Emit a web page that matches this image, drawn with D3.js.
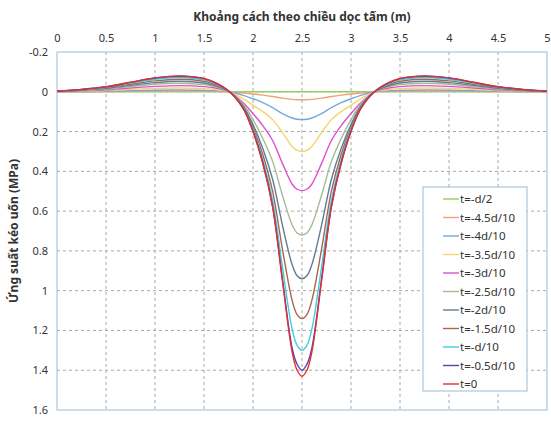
<!DOCTYPE html>
<html><head><meta charset="utf-8">
<script src="https://cdn.jsdelivr.net/npm/d3@7"></script>
<style>
body{margin:0;background:#fff;}
text{font-family:"Noto Sans",sans-serif;fill:#333;}
</style></head>
<body><svg id="c" width="551" height="421"></svg>
<script>
const xs = [0,0.25,0.5,0.75,1,1.25,1.5,1.6,1.75,1.9,2,2.1,2.2,2.3,2.4,2.45,2.5,2.55,2.6,2.7,2.8,2.9,3,3.1,3.25,3.4,3.5,3.75,4,4.25,4.5,4.75,5];
const xTicks = [0,0.5,1,1.5,2,2.5,3,3.5,4,4.5,5];
const yTicks = [-0.2,0,0.2,0.4,0.6,0.8,1,1.2,1.4,1.6];
const seriesNames = ["t=-d/2","t=-4.5d/10","t=-4d/10","t=-3.5d/10","t=-3d/10","t=-2.5d/10","t=-2d/10","t=-1.5d/10","t=-d/10","t=-0.5d/10","t=0"];
const seriesColors = ["#8fd163","#f2a07a","#72a9dc","#f7d468","#df4fcf","#a3bb92","#5f7d96","#a8664a","#3fcde0","#5a3fb8","#e0302e"];

const sHalfD2  = [0,0,0,0,0,0,0,0,0,0,0,0,0,0,0,0,0,0,0,0,0,0,0,0,0,0,0,0,0,0,0,0,0];
const s45d10   = [0,0,-0.001,-0.002,-0.002,-0.003,-0.002,-0.002,0,0.006,0.011,0.017,0.024,0.032,0.038,0.04,0.04,0.04,0.038,0.032,0.024,0.017,0.011,0.006,0,-0.002,-0.002,-0.003,-0.002,-0.002,-0.001,0,0];
const s4d10    = [0,-0.001,-0.003,-0.005,-0.008,-0.009,-0.007,-0.006,0,0.018,0.035,0.055,0.08,0.11,0.132,0.138,0.14,0.138,0.132,0.11,0.08,0.055,0.035,0.018,0,-0.006,-0.007,-0.009,-0.008,-0.005,-0.003,-0.001,0];
const s35d10   = [-0.001,-0.003,-0.006,-0.012,-0.017,-0.019,-0.016,-0.012,-0.001,0.035,0.068,0.1,0.14,0.205,0.275,0.295,0.3,0.295,0.275,0.205,0.14,0.1,0.068,0.035,-0.001,-0.012,-0.016,-0.019,-0.017,-0.012,-0.006,-0.003,-0.001];
const s3d10    = [-0.001,-0.005,-0.01,-0.019,-0.027,-0.031,-0.026,-0.02,-0.002,0.055,0.11,0.17,0.245,0.36,0.465,0.49,0.497,0.49,0.465,0.36,0.245,0.17,0.11,0.055,-0.002,-0.02,-0.026,-0.031,-0.027,-0.019,-0.01,-0.005,-0.001];
const s25d10   = [-0.002,-0.006,-0.014,-0.026,-0.038,-0.043,-0.036,-0.027,-0.002,0.063,0.14,0.235,0.35,0.52,0.67,0.71,0.72,0.71,0.67,0.52,0.35,0.235,0.14,0.063,-0.002,-0.027,-0.036,-0.043,-0.038,-0.026,-0.014,-0.006,-0.002];
const s2d10    = [-0.002,-0.008,-0.017,-0.032,-0.046,-0.053,-0.044,-0.033,-0.003,0.072,0.165,0.285,0.44,0.67,0.87,0.925,0.94,0.925,0.87,0.67,0.44,0.285,0.165,0.072,-0.003,-0.033,-0.044,-0.053,-0.046,-0.032,-0.017,-0.008,-0.002];
const s15d10   = [-0.002,-0.009,-0.021,-0.038,-0.055,-0.063,-0.053,-0.04,-0.004,0.078,0.18,0.315,0.5,0.79,1.05,1.12,1.14,1.12,1.05,0.79,0.5,0.315,0.18,0.078,-0.004,-0.04,-0.053,-0.063,-0.055,-0.038,-0.021,-0.009,-0.002];
const s1d10    = [-0.003,-0.011,-0.023,-0.043,-0.063,-0.072,-0.06,-0.045,-0.004,0.082,0.19,0.34,0.545,0.88,1.195,1.275,1.3,1.275,1.195,0.88,0.545,0.34,0.19,0.082,-0.004,-0.045,-0.06,-0.072,-0.063,-0.043,-0.023,-0.011,-0.003];
const s05d10   = [-0.003,-0.012,-0.025,-0.047,-0.069,-0.078,-0.066,-0.049,-0.005,0.084,0.198,0.357,0.575,0.94,1.29,1.37,1.4,1.37,1.29,0.94,0.575,0.357,0.198,0.084,-0.005,-0.049,-0.066,-0.078,-0.069,-0.047,-0.025,-0.012,-0.003];
const s0       = [-0.003,-0.012,-0.026,-0.048,-0.07,-0.08,-0.067,-0.05,-0.005,0.085,0.2,0.36,0.58,0.95,1.31,1.4,1.43,1.4,1.31,0.95,0.58,0.36,0.2,0.085,-0.005,-0.05,-0.067,-0.08,-0.07,-0.048,-0.026,-0.012,-0.003];
const seriesValues = [sHalfD2,s45d10,s4d10,s35d10,s3d10,s25d10,s2d10,s15d10,s1d10,s05d10,s0];

const L=57,R=547,T=52,B=410;
const svg=d3.select("#c");
const x=d3.scaleLinear().domain([0,5]).range([L,R]);
const y=d3.scaleLinear().domain([-0.2,1.6]).range([T,B]);

// grid
svg.append("g").selectAll("line").data(xTicks.slice(1,-1)).join("line")
  .attr("x1",d=>x(d)).attr("x2",d=>x(d)).attr("y1",T).attr("y2",B)
  .attr("stroke","#a8a8a8").attr("stroke-dasharray","3,3").attr("stroke-width",1);
svg.append("g").selectAll("line").data(yTicks.slice(1,-1)).join("line")
  .attr("x1",L).attr("x2",R).attr("y1",d=>y(d)).attr("y2",d=>y(d))
  .attr("stroke","#a8a8a8").attr("stroke-dasharray","3,3").attr("stroke-width",1);

// border
svg.append("rect").attr("x",L).attr("y",T).attr("width",R-L).attr("height",B-T)
  .attr("fill","none").attr("stroke","#9dbbd0").attr("stroke-width",1);

// axes (labels only)
const fmt=d=>String(d);
const xAxis=d3.axisTop(x).tickValues(xTicks).tickSize(0).tickPadding(0).tickFormat(fmt);
const gx=svg.append("g").attr("transform",`translate(0,${T-10})`).call(xAxis);
gx.select(".domain").remove();
gx.selectAll("text").attr("font-size",11).attr("fill","#404040").style("font-family","'Noto Sans',sans-serif");
const yAxis=d3.axisLeft(y).tickValues(yTicks).tickSize(0).tickPadding(0).tickFormat(fmt);
const gy=svg.append("g").attr("transform",`translate(${L-9},0)`).call(yAxis);
gy.select(".domain").remove();
gy.selectAll("text").attr("font-size",11).attr("fill","#404040").style("font-family","'Noto Sans',sans-serif");

// titles
svg.append("text").attr("x",(L+R)/2).attr("y",21).attr("text-anchor","middle")
  .attr("font-size",12).attr("font-weight","bold").text("Khoảng cách theo chiều dọc tấm (m)");
svg.append("text").attr("transform",`translate(18,${(T+B)/2}) rotate(-90)`).attr("text-anchor","middle")
  .attr("font-size",12).attr("font-weight","bold").text("Ứng suất kéo uốn (MPa)");

// lines
const line=d3.line().x((d,i)=>x(xs[i])).y(d=>y(d)).curve(d3.curveCatmullRom.alpha(0.5));
svg.append("g").selectAll("path").data(seriesValues).join("path")
  .attr("d",d=>line(d)).attr("fill","none")
  .attr("stroke",(d,i)=>seriesColors[i]).attr("stroke-width",1.4);

// legend
const lg=svg.append("g");
lg.append("rect").attr("x",423).attr("y",187).attr("width",104).attr("height",204)
  .attr("fill","#fff").attr("stroke","#9dbbd0");
const items=lg.selectAll("g.it").data(seriesNames).join("g").attr("class","it")
  .attr("transform",(d,i)=>`translate(0,${199+i*18.5})`);
items.append("line").attr("x1",443).attr("x2",459).attr("y1",0).attr("y2",0)
  .attr("stroke",(d,i)=>seriesColors[i]).attr("stroke-width",1.4);
items.append("text").attr("x",460).attr("y",4).attr("font-size",11.5).attr("fill","#333").text(d=>d);
</script></body></html>
